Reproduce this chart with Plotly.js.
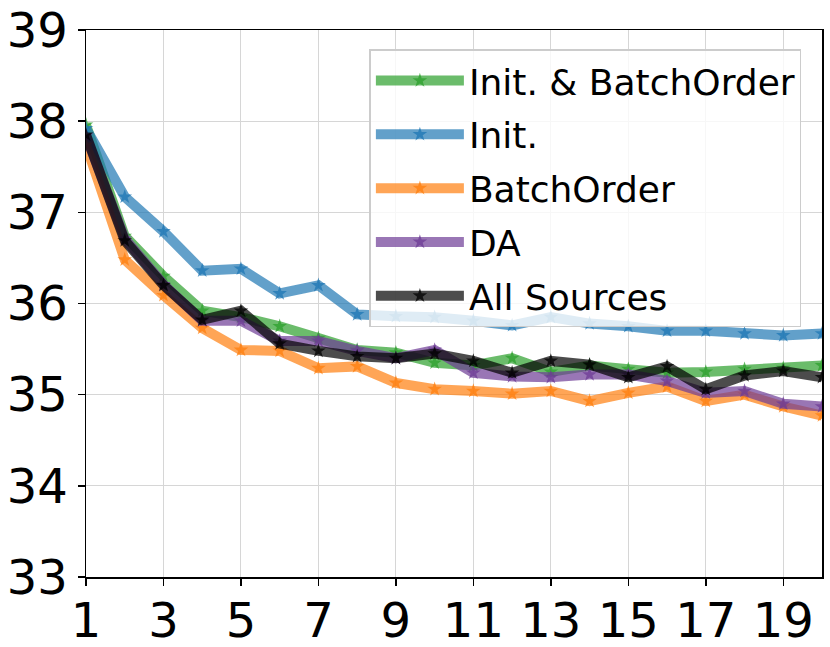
<!DOCTYPE html>
<html>
<head>
<meta charset="utf-8">
<script src="https://cdn.plot.ly/plotly-3.0.1.min.js"></script>
<style>html,body{margin:0;padding:0;background:#fff;}#chart{width:830px;height:647px;}</style>
</head>
<body>
<div id="chart"></div>
<script>
const epochs = [1,2,3,4,5,6,7,8,9,10,11,12,13,14,15,16,17,18,19,20];
const initBatchOrder = [37.96,36.74,36.30,35.92,35.85,35.75,35.62,35.49,35.46,35.35,35.32,35.40,35.25,35.32,35.28,35.24,35.25,35.28,35.29,35.32];
const initOnly = [37.92,37.17,36.79,36.36,36.38,36.11,36.20,35.88,35.86,35.85,35.81,35.76,35.85,35.78,35.75,35.70,35.70,35.67,35.65,35.67];
const batchOrder = [37.74,36.48,36.09,35.73,35.49,35.48,35.29,35.31,35.13,35.06,35.04,35.01,35.04,34.93,35.02,35.09,34.93,35.00,34.87,34.77];
const da = [37.84,36.71,36.21,35.81,35.81,35.59,35.59,35.48,35.40,35.49,35.24,35.20,35.19,35.22,35.22,35.15,35.02,35.04,34.90,34.87];
const allSources = [37.85,36.69,36.20,35.82,35.92,35.56,35.48,35.42,35.40,35.45,35.37,35.24,35.37,35.33,35.19,35.31,35.06,35.21,35.26,35.19];
const seriesNames = ["Init. & BatchOrder","Init.","BatchOrder","DA","All Sources"];
const xTicks = [1,3,5,7,9,11,13,15,17,19];
const yTicks = [33,34,35,36,37,38,39];

const colors = ["44,160,44","31,119,180","255,127,14","110,60,150","0,0,0"];
const data = [initBatchOrder, initOnly, batchOrder, da, allSources];

const traces = data.map((ys,i)=>({
  x: epochs, y: ys, name: seriesNames[i], type:'scatter', mode:'lines+markers',
  legendgroup: 'g'+i,
  line:{color:`rgba(${colors[i]},0.7)`, width:10},
  marker:{symbol:'star', size:11, color:`rgba(${colors[i]},0.75)`, line:{width:0}},
  cliponaxis:true
}));

const layout = {
  width:830, height:647,
  margin:{l:86, r:8, t:30, b:70},
  paper_bgcolor:'#fff', plot_bgcolor:'#fff',
  font:{family:'DejaVu Sans', color:'#000'},
  showlegend:true,
  legend:{
    x:0.972, xanchor:'right', y:0.965, yanchor:'top',
    bgcolor:'rgba(255,255,255,0.8)', bordercolor:'#cccccc', borderwidth:1.5,
    font:{size:36, family:'DejaVu Sans'},
    itemwidth:88, tracegroupgap:4
  },
  xaxis:{
    range:[1,20], tickvals:xTicks, ticktext:xTicks.map(String),
    showgrid:true, gridcolor:'#d6d6d6', gridwidth:1,
    showline:true, linecolor:'#000', linewidth:1.5, mirror:true,
    ticks:'outside', ticklen:7, tickwidth:1.5, tickcolor:'#000',
    tickfont:{size:48, family:'DejaVu Sans'}, zeroline:false,
    ticklabelstandoff:-6
  },
  yaxis:{
    range:[33,39], tickvals:yTicks, ticktext:yTicks.map(String),
    showgrid:true, gridcolor:'#d6d6d6', gridwidth:1,
    showline:true, linecolor:'#000', linewidth:1.5, mirror:true,
    ticks:'outside', ticklen:7, tickwidth:1.5, tickcolor:'#000',
    tickfont:{size:48, family:'DejaVu Sans'}, zeroline:false
  }
};
Plotly.newPlot('chart', traces, layout, {displayModeBar:false, staticPlot:true});
</script>
</body>
</html>
